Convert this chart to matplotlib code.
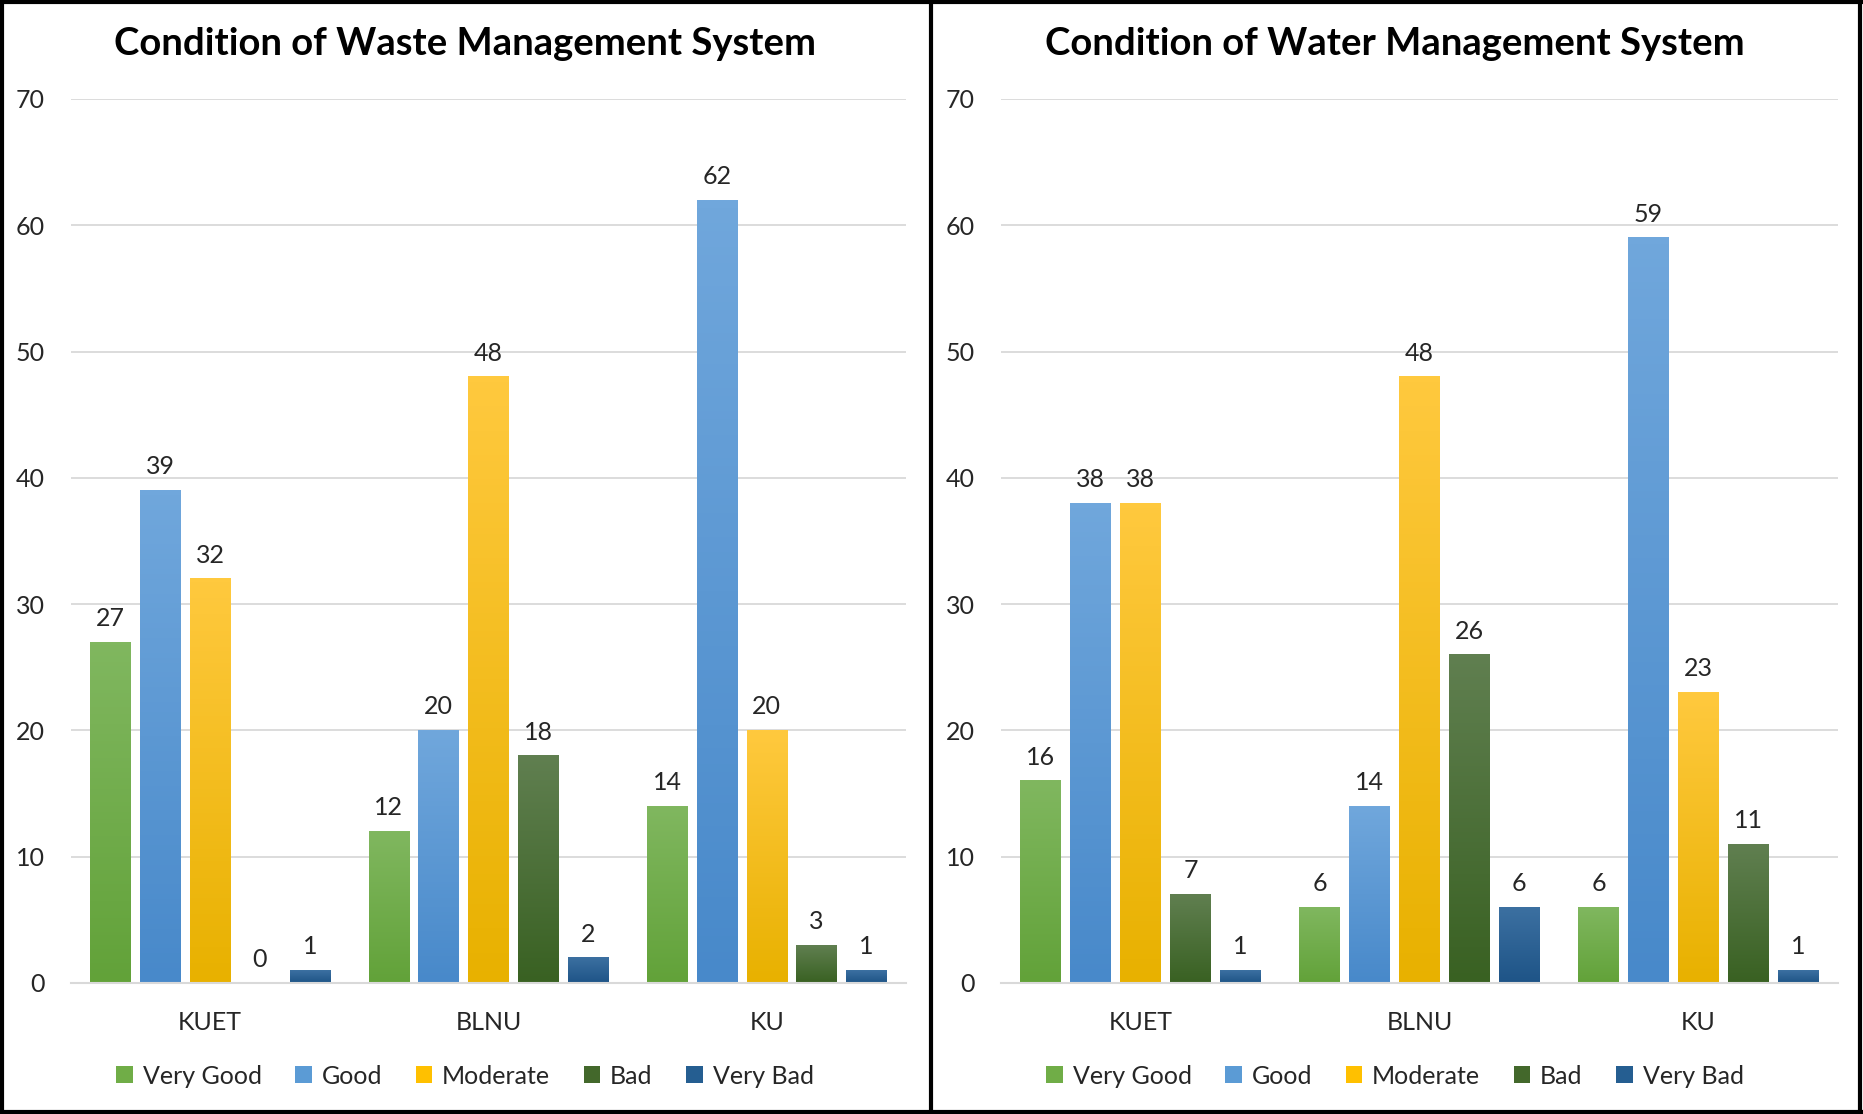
import numpy as np
import matplotlib.pyplot as plt
from matplotlib.colors import LinearSegmentedColormap
from matplotlib.patches import Patch
from matplotlib.lines import Line2D

# data
universities = ['KUET', 'BLNU', 'KU']
conditions = ['Very Good', 'Good', 'Moderate', 'Bad', 'Very Bad']

waste_very_good = [27, 12, 14]
waste_good = [39, 20, 62]
waste_moderate = [32, 48, 20]
waste_bad = [0, 18, 3]
waste_very_bad = [1, 2, 1]

water_very_good = [16, 6, 6]
water_good = [38, 14, 59]
water_moderate = [38, 48, 23]
water_bad = [7, 26, 11]
water_very_bad = [1, 6, 1]

titles = ['Condition of Waste Management System', 'Condition of Water Management System']

# (top, bottom, legend) colours
COLORS = [
    ('#80b75f', '#62a239', '#70ad47'),
    ('#70a7dc', '#4889ca', '#5b9bd5'),
    ('#ffc93e', '#e8b100', '#ffc000'),
    ('#607f50', '#396122', '#43682b'),
    ('#3c70a1', '#1e5487', '#255e91'),
]

plt.rcParams['font.family'] = ['Lato', 'DejaVu Sans']

fig = plt.figure(figsize=(18.63, 11.14), dpi=100)

W, H = 1863.0, 1114.0
axes_px = [(71, 906), (1001, 1838)]
top_px, bottom_px = 99, 983
panel_centers = [465, 1395]

bar_w = 0.145
pitch = 0.179
FS = 18


def draw_panel(ax, series, title, pcenter):
    x = np.arange(len(universities))
    for i, values in enumerate(series):
        top_c, bot_c, _ = COLORS[i]
        cmap = LinearSegmentedColormap.from_list('g%d' % i, [bot_c, top_c])
        offs = (i - 2) * pitch
        bars = ax.bar(x + offs, values, width=bar_w, color='none', zorder=2)
        for b, v in zip(bars, values):
            if v > 0:
                grad = np.linspace(1, 0, 100).reshape(-1, 1)
                ax.imshow(grad, cmap=cmap, aspect='auto', zorder=2,
                          extent=[b.get_x(), b.get_x() + b.get_width(), 0, v],
                          vmin=0, vmax=1)
            ax.annotate(str(v), (b.get_x() + b.get_width() / 2, v),
                        xytext=(0, 17), textcoords='offset points',
                        ha='center', va='center', fontsize=FS, color='#262626')

    ax.set_xlim(-0.5, 2.5)
    ax.set_ylim(0, 70)
    ax.set_yticks(range(0, 71, 10))
    ax.set_xticks(x)
    ax.set_xticklabels(universities)
    ax.grid(axis='y', color='#d9d9d9', linewidth=1.3, zorder=0)
    ax.set_axisbelow(True)
    for s in ['top', 'left', 'right']:
        ax.spines[s].set_visible(False)
    ax.spines['bottom'].set_color('#d9d9d9')
    ax.spines['bottom'].set_linewidth(1.5)
    ax.tick_params(axis='y', length=0, pad=19, labelsize=FS, labelcolor='#262626')
    ax.tick_params(axis='x', length=0, pad=20, labelsize=FS, labelcolor='#262626')

    fig.text(pcenter / W, 1 - 44 / H, title, ha='center', va='center',
             fontsize=27.5, fontweight='bold', color='black')

    handles = [Patch(facecolor=c[2], edgecolor='none') for c in COLORS]
    fig.legend(handles, conditions, loc='center', ncol=5, frameon=False,
               bbox_to_anchor=(pcenter / W, 38 / H), fontsize=FS,
               handlelength=0.65, handleheight=0.65, handletextpad=0.4,
               columnspacing=1.35, labelcolor='#262626')


all_series = [
    [waste_very_good, waste_good, waste_moderate, waste_bad, waste_very_bad],
    [water_very_good, water_good, water_moderate, water_bad, water_very_bad],
]

for k in range(2):
    x0, x1 = axes_px[k]
    ax = fig.add_axes([x0 / W, 1 - bottom_px / H, (x1 - x0) / W, (bottom_px - top_px) / H])
    draw_panel(ax, all_series[k], titles[k], panel_centers[k])

# panel frames
lw = 3
for xs, ys in [([2 / W, 2 / W], [0, 1]), ([1860 / W, 1860 / W], [0, 1]),
               ([931 / W, 931 / W], [0, 1]),
               ([0, 1861 / W], [1 - 2 / H, 1 - 2 / H]), ([0, 1861 / W], [2 / H, 2 / H])]:
    fig.add_artist(Line2D(xs, ys, color='black', linewidth=lw, transform=fig.transFigure))

fig.savefig('out.png', dpi=100, facecolor='white')
